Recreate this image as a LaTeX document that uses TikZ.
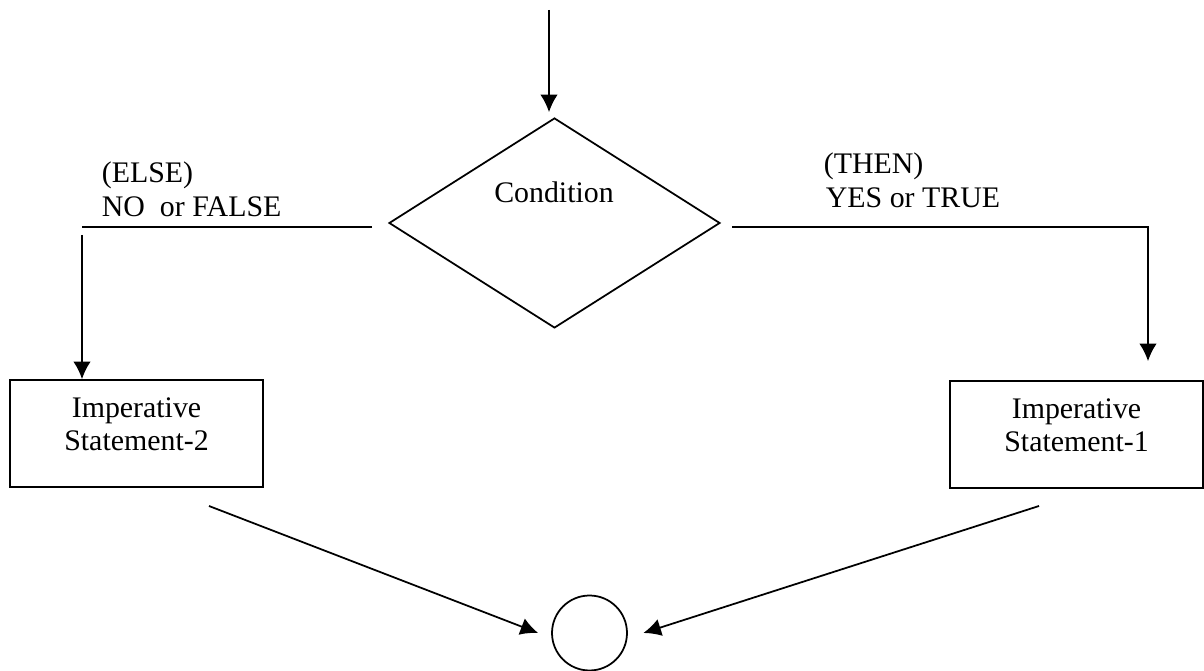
\documentclass[tikz,border=0pt]{standalone}
\usepackage{fontspec}
\setmainfont{Liberation Serif}
\usetikzlibrary{positioning,shapes.geometric,arrows.meta}

\begin{document}
\begin{tikzpicture}[x=0.02cm,y=-0.02cm,>={Latex[length=10pt,width=10pt]},line width=1pt,
        font=\fontsize{17pt}{19pt}\selectfont,
        decision/.style={draw,diamond,minimum width=6.62cm,minimum height=4.2cm,inner sep=0pt},
        stmtbox/.style={draw,rectangle,align=center,minimum width=5.06cm,minimum height=2.14cm,inner sep=0pt,text depth=0.37cm},
        branchlbl/.style={anchor=base west,inner sep=0pt},
        joinpt/.style={draw,circle,minimum size=1.5cm,inner sep=0pt}]
        \useasboundingbox (0,0) rectangle (1204,671);
        \node[decision] (cond) at (554.5,223) {};
        \node[anchor=base,inner sep=0pt] (condtext) at (554,203) {Condition};
        \node[branchlbl] (elselbl) at (101,183) {(ELSE)};
        \node[branchlbl] (nolbl) at (101,217) {NO\ \ or FALSE};
        \node[branchlbl] (thenlbl) at (823,174) {(THEN)};
        \node[branchlbl] (yeslbl) at (825,208) {YES or TRUE};
        \node[stmtbox] (nobox) at (136.5,433.5) {Imperative\\Statement-2};
        \node[stmtbox] (yesbox) at (1076.5,434.5) {Imperative\\Statement-1};
        \node[joinpt] (join) at (589.5,633) {};
        \coordinate (entry) at (549,10);
        \coordinate (nostart) at (372,227);
        \coordinate (nocorner) at (82,227);
        \coordinate (nodrop) at (82,235);
        \coordinate (yesstart) at (732,227);
        \coordinate (yescorner) at (1148,227);
        \coordinate (nofrom) at (209,506);
        \coordinate (yesfrom) at (1039,506);
        \draw[->,shorten >=0.1cm] (entry) -- (entry |- cond.north);
        \draw (nostart) -- (nocorner);
        \draw[->] (nodrop) -- (nodrop |- nobox.north);
        \draw[->,shorten >=0.38cm] (yesstart) -- (yescorner) -- (yescorner |- yesbox.north);
        \draw[->] (nofrom) -- ([xshift=-0.26cm]join.west);
        \draw[->] (yesfrom) -- ([xshift=0.31cm]join.east);
    \end{tikzpicture}
\end{document}
